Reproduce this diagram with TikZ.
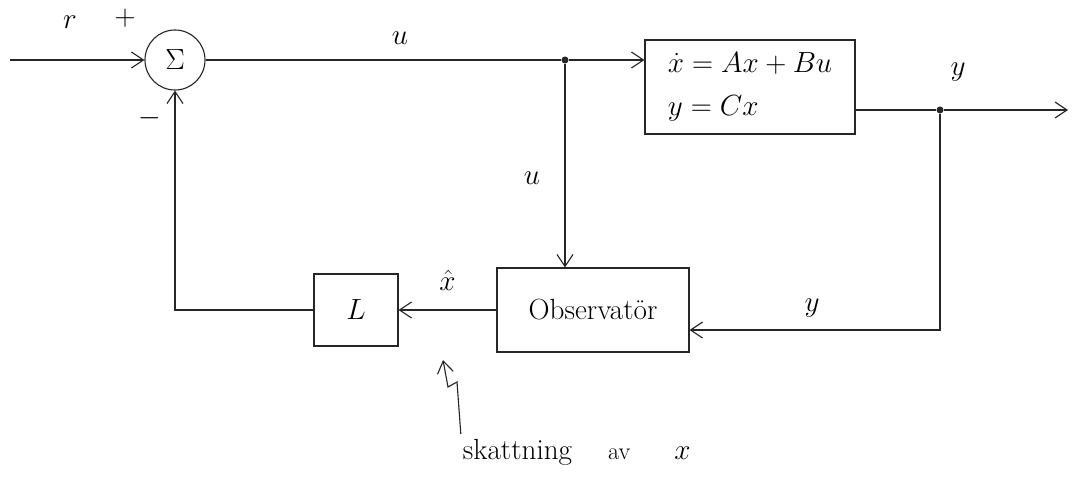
\documentclass[tikz,border=0pt]{standalone}
\usepackage{amsmath}
\usepackage{tikz}
\usetikzlibrary{arrows.meta, positioning, calc}
\tikzset{
	block/.style={rectangle, draw=black!85, thick, text centered, align=left, font=\huge},
	sumnode/.style={circle, draw=black!85, thick, minimum size=1.5cm, inner sep=0pt, font=\huge},
	flowarrow/.style={-{Straight Barb[length=3mm, width=4mm]}, thick, draw=black!85},
	sigline/.style={thick, draw=black!85},
	branch/.style={circle, fill=black!85, inner sep=0pt, minimum size=5pt},
	lbl/.style={font=\huge},
}
\begin{document}
\begin{tikzpicture}[x=0.025cm, y=-0.025cm]
	\useasboundingbox (0,0) rectangle (1076,487);
	% blocks
	\node[sumnode] (sum) at (175,60) {$\Sigma$};
	\node[block, minimum width=5.25cm, minimum height=2.35cm] (plant) at (750,87) {$\dot{x} = Ax + Bu$\\[6pt] $y = Cx$};
	\node[block, minimum width=4.8cm, minimum height=2.1cm] (obs) at (593,310) {Observatör};
	\node[block, minimum width=2.1cm, minimum height=1.8cm] (L) at (356,310) {$L$};
	% branch points and free ends
	\coordinate (in) at (10,60);
	\node[branch] (bu) at (565,60) {};
	\node[branch] (by) at (940,110) {};
	\coordinate (yout) at (1068,110);
	% forward path
	\draw[flowarrow] (in) -- (sum.west);
	\draw[sigline] (sum.east) -- (bu);
	\draw[flowarrow] (bu) -- (bu -| plant.west);
	\draw[sigline] (plant.east |- by) -- (by);
	\draw[flowarrow] (by) -- (yout);
	% observer loop
	\draw[flowarrow] (bu) -- (bu |- obs.north);
	\draw[flowarrow] (by) |- ([yshift=-0.5cm]obs.east);
	\draw[flowarrow] (obs.west) -- node[above=10pt, lbl] {$\hat{x}$} (L.east);
	\draw[flowarrow] (L.west) -| (sum.south);
	% labels
	\node[lbl] (r) at (70,22) {$r$};
	\node[lbl] (plus) at (125,18) {$+$};
	\node[lbl] (minus) at (150,118) {$-$};
	\node[lbl] (u1) at (400,38) {$u$};
	\node[lbl] (u2) at (532,178) {$u$};
	\node[lbl] (y1) at (958,72) {$y$};
	\node[lbl] (y2) at (812,308) {$y$};
	% note
	\node[font=\huge, anchor=west] (note) at (458,452) {skattning\hspace{0.9cm}{\LARGE av}\hspace{1.1cm}$x$};
	\draw[flowarrow] ([xshift=2pt]note.north west) -- (457,382) -- (448,387) -- (443,360);
\end{tikzpicture}
\end{document}
